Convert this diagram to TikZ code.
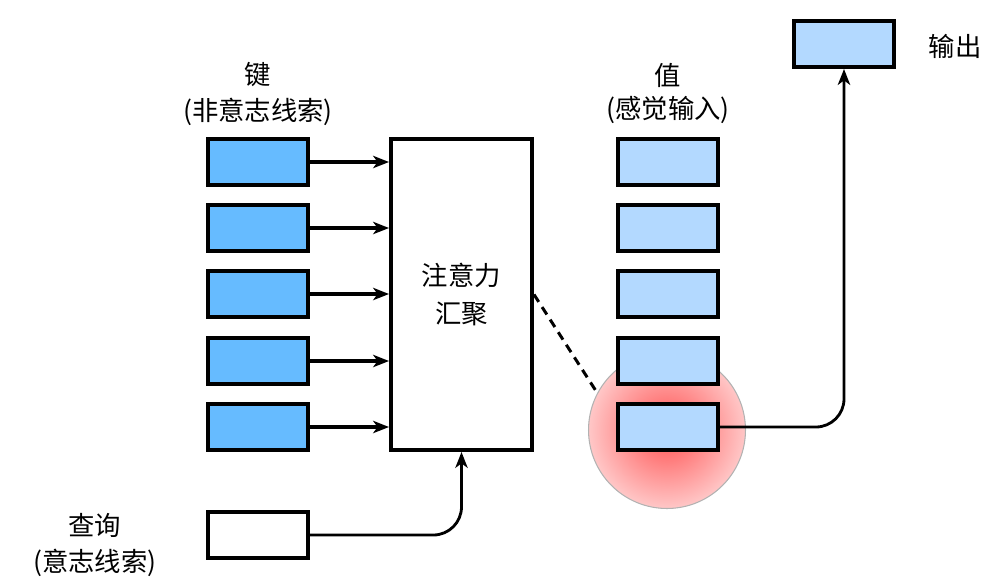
\documentclass[tikz,border=0pt]{standalone}
\usepackage{fontspec}
\setmainfont{Noto Sans CJK SC}
\usetikzlibrary{arrows.meta, positioning, calc}
\definecolor{keyblue}{RGB}{102,187,255}
\definecolor{valblue}{RGB}{179,217,255}
\pgfdeclareradialshading{glow}{\pgfpoint{0bp}{0bp}}{color(0bp)=(red!68); color(10bp)=(red!50); color(26bp)=(red!20); color(42bp)=(red!5); color(50bp)=(red!2)}

\begin{document}
\begin{tikzpicture}[x=0.02cm, y=-0.02cm,
  box/.style={draw, line width=2.3pt, minimum width=2.0cm, minimum height=0.92cm, inner sep=0pt},
  keybox/.style={box, fill=keyblue},
  valbox/.style={box, fill=valblue},
  lbl/.style={font=\fontsize{15}{17}\selectfont, inner sep=0pt},
  arr/.style={-{Stealth[length=9pt, width=7pt, inset=2.5pt]}, line width=1.8pt}]
\useasboundingbox (0,0) rectangle (1008,586);
% Attention pooling
\node[draw, line width=2.3pt, minimum width=2.82cm, minimum height=6.22cm, align=center,
  font=\fontsize{15}{22}\selectfont] (agg) at (461.5,294.5) {注意力\\汇聚};
% Highlight of the chosen value
\node[circle, minimum size=3.14cm, shading=glow, draw=gray!60, line width=0.6pt] (glow) at (667,430) {};
% Keys and values
\foreach \i/\y in {1/162, 2/228, 3/294, 4/361, 5/427} {
  \node[keybox] (k\i) at (258,\y) {};
  \node[valbox] (v\i) at (668,\y) {};
  \draw[arr] (k\i.east) -- (agg.west |- k\i.east);
}
% Query and output
\node[box] (q) at (258,535) {};
\node[valbox] (out) at (844,44) {};
\draw[arr, line width=1.6pt, rounded corners=16] (q.east) -| (agg.south);
\draw[arr, line width=1.6pt, rounded corners=16] (v5.east) -| (out.south);
\draw[dashed, dash pattern=on 5pt off 3.5pt, line width=1.7pt] (agg.east) -- (glow.152);
% Labels
\node[lbl] (kname) at (258,75) {键};
\node[lbl] (kdesc) at (258,112) {(非意志线索)};
\node[lbl] (vname) at (668,75) {值};
\node[lbl] (vdesc) at (668,110) {(感觉输入)};
\node[lbl] (qname) at (95,525) {查询};
\node[lbl] (qdesc) at (95,563) {(意志线索)};
\node[lbl] (oname) at (955,46) {输出};
\end{tikzpicture}
\end{document}
